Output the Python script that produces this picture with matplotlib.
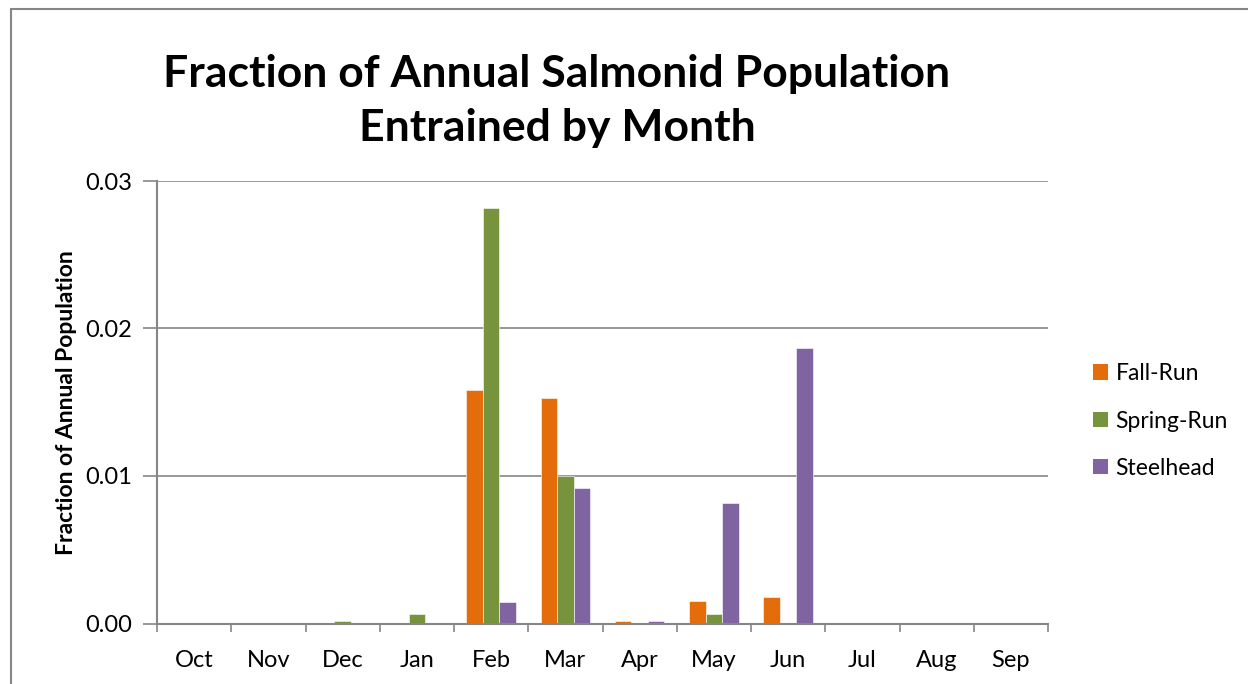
import numpy as np
import matplotlib
matplotlib.use("Agg")
import matplotlib.pyplot as plt
from matplotlib.patches import Rectangle, Patch

plt.rcParams['font.family'] = ['Lato', 'DejaVu Sans']

months = ["Oct", "Nov", "Dec", "Jan", "Feb", "Mar", "Apr", "May", "Jun", "Jul", "Aug", "Sep"]
fall_run = [0, 0, 0, 0, 0.0158, 0.0153, 0.00017, 0.0015, 0.0018, 0, 0, 0]
spring_run = [0, 0, 0.00017, 0.00063, 0.0282, 0.0100, 0, 0.00064, 0, 0, 0, 0]
steelhead = [0, 0, 0, 0, 0.00145, 0.0092, 0.0002, 0.0082, 0.0187, 0, 0, 0]
series_names = ["Fall-Run", "Spring-Run", "Steelhead"]
colors = ["#E46C0A", "#77933C", "#8064A2"]
y_ticks = [0.0, 0.01, 0.02, 0.03]
y_tick_labels = ["0.00", "0.01", "0.02", "0.03"]

fig = plt.figure(figsize=(12.48, 6.84), dpi=100)
ax = fig.add_axes([157/1248, 1 - 623.5/684, (1048-157)/1248, (623.5-181)/684])

x = np.arange(len(months))
w = 0.222
for i, (vals, c, name) in enumerate(zip([fall_run, spring_run, steelhead], colors, series_names)):
    ax.bar(x + (i - 1) * w, vals, width=w, color=c, label=name,
           edgecolor="white", linewidth=0.4, zorder=3)

ax.set_xlim(-0.5, len(months) - 0.5)
ax.set_ylim(0, 0.03)
ax.set_yticks(y_ticks)
ax.set_yticklabels(y_tick_labels, fontsize=17)
ax.set_xticks(x)
ax.set_xticklabels(months, fontsize=17)
ax.tick_params(axis='x', length=0, pad=19)
ax.set_xticks(np.arange(-0.5, len(months)), minor=True)
ax.tick_params(axis='x', which='minor', length=6, color="#868686", width=1.2)
ax.tick_params(axis='y', length=10, color="#868686", width=1.2, pad=8)

ax.grid(axis='y', color="#868686", linewidth=1.2, zorder=0)
for s in ["top", "right"]:
    ax.spines[s].set_visible(False)
for s in ["left", "bottom"]:
    ax.spines[s].set_color("#868686")
    ax.spines[s].set_linewidth(1.5)
ax.spines["bottom"].set_zorder(4)

ax.set_ylabel("Fraction of Annual Population", fontsize=16.5, fontweight='bold', labelpad=6)

fig.text(557/1248, 1 - 101/684, "Fraction of Annual Salmonid Population\nEntrained by Month",
         ha='center', va='center', fontsize=32, fontweight='bold', linespacing=1.45)

handles = [Patch(facecolor=c, label=n) for c, n in zip(colors, series_names)]
fig.legend(handles=handles, loc='center left', bbox_to_anchor=(1072/1248, 1 - 421/684),
           frameon=False, fontsize=16.5, handlelength=0.65, handleheight=0.65,
           handletextpad=0.35, labelspacing=1.15)

fig.patches.append(Rectangle((11/1248, -0.1), 1.2, 1 - 9/684 + 0.1, transform=fig.transFigure,
                             fill=False, edgecolor="#868686", linewidth=1.5))

fig.savefig("out.png", dpi=100)
